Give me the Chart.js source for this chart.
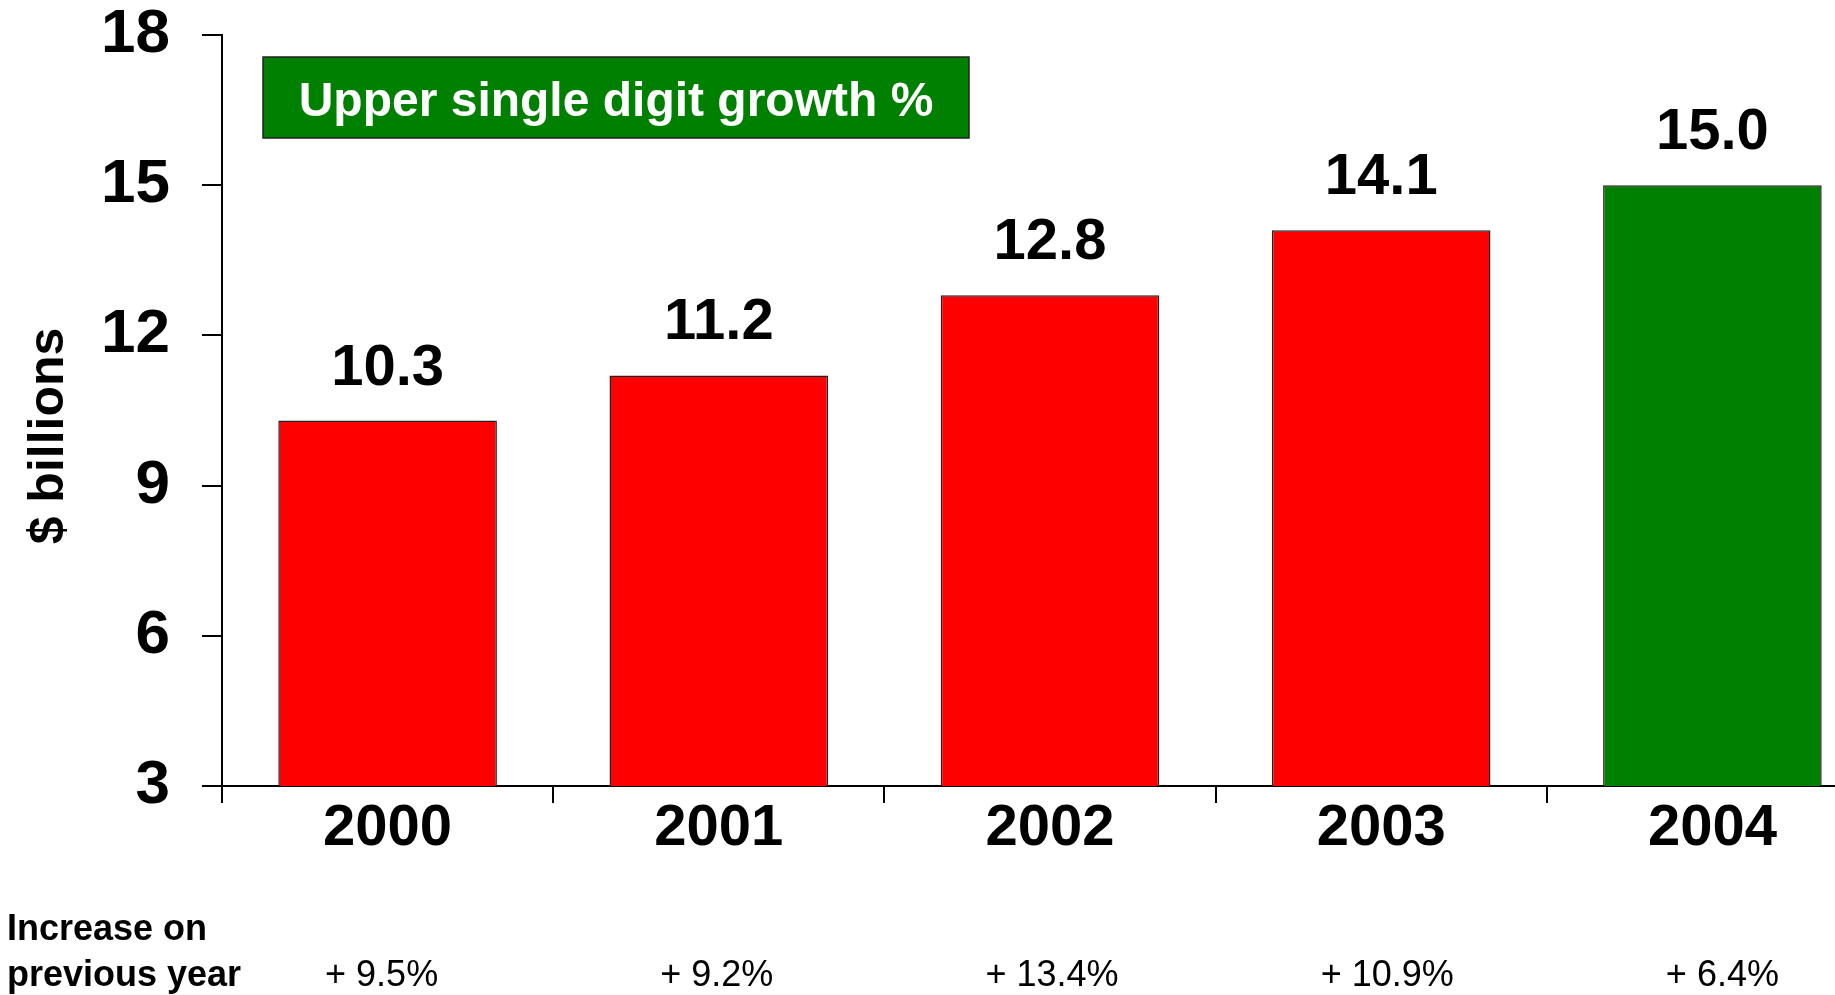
<!DOCTYPE html>
<html>
<head>
<meta charset="utf-8">
<title>Sales $ billions</title>
<script src="https://cdn.jsdelivr.net/npm/chart.js@4"></script>
<style>
  html, body { margin: 0; padding: 0; overflow: hidden; background: #fff; }
  #wrap { position: absolute; left: 0; top: 0; width: 1880px; height: 995px; }
</style>
</head>
<body>
<div id="wrap"><canvas id="salesChart" width="1880" height="995"></canvas></div>
<script>
// Data
const years = ["2000", "2001", "2002", "2003", "2004"];
const sales = [10.3, 11.2, 12.8, 14.1, 15.0];
const growth = ["+ 9.5%", "+ 9.2%", "+ 13.4%", "+ 10.9%", "+ 6.4%"];
const yTicks = [3, 6, 9, 12, 15, 18];

const FONT = '"Liberation Sans", Arial, sans-serif';

// Extra drawing: value labels, axis title, callout box and the bottom row
const extrasPlugin = {
    id: 'extras',
    afterDatasetsDraw(chart) {
        const ctx = chart.ctx;
        const meta = chart.getDatasetMeta(0);
        const xScale = chart.scales.x;
        ctx.save();

        // values over bars
        ctx.fillStyle = '#000';
        ctx.font = 'bold 58px ' + FONT;
        ctx.textAlign = 'center';
        ctx.textBaseline = 'alphabetic';
        meta.data.forEach((bar, i) => {
            ctx.fillText(sales[i].toFixed(1), bar.x, bar.y - 36);
        });

        // y axis title
        ctx.save();
        ctx.translate(49, 436);
        ctx.rotate(-Math.PI / 2);
        ctx.font = 'bold 50px ' + FONT;
        ctx.textBaseline = 'middle';
        ctx.fillText('$ billions', 0, 0);
        ctx.restore();

        // callout box
        ctx.fillStyle = '#008000';
        ctx.fillRect(263, 57, 706, 81);
        ctx.strokeStyle = '#222';
        ctx.lineWidth = 1.5;
        ctx.strokeRect(263, 57, 706, 81);
        ctx.fillStyle = '#fff';
        ctx.font = 'bold 48px ' + FONT;
        ctx.textBaseline = 'middle';
        ctx.fillText('Upper single digit growth %', 616, 103);

        // bottom row
        ctx.fillStyle = '#000';
        ctx.textAlign = 'left';
        ctx.font = 'bold 36px ' + FONT;
        ctx.fillText('Increase on', 7, 930);
        ctx.fillText('previous year', 7, 976);
        ctx.textAlign = 'center';
        ctx.font = '36px ' + FONT;
        growth.forEach((g, i) => {
            ctx.fillText(g, xScale.getPixelForValue(i) - 6 + i * 4, 976);
        });

        ctx.restore();
    }
};

const initSalesChart = () => {
    const ctx = document.getElementById('salesChart').getContext('2d');
    new Chart(ctx, {
        type: 'bar',
        data: {
            labels: years,
            datasets: [{
                data: sales,
                backgroundColor: (c) => c.dataIndex === years.length - 1 ? '#008000' : '#ff0000',
                borderColor: '#222',
                borderWidth: 1.5,
                barPercentage: 0.66,
                categoryPercentage: 1
            }]
        },
        options: {
            responsive: false,
            animation: false,
            layout: { padding: { left: 0, right: 2, top: 35, bottom: 0 } },
            plugins: {
                legend: { display: false },
                tooltip: { enabled: false }
            },
            scales: {
                x: {
                    afterFit: (s) => { s.height = 209; s.paddingLeft = 0; s.paddingRight = 0; },
                    border: { display: true, color: '#000', width: 2 },
                    grid: { display: true, drawOnChartArea: false, tickLength: 17, color: '#000', lineWidth: 2, offset: true },
                    ticks: { color: '#000', font: { family: FONT, size: 58, weight: 'bold', lineHeight: 1 }, padding: -3, maxRotation: 0 }
                },
                y: {
                    min: 3,
                    max: 18,
                    afterFit: (s) => { s.width = 222; s.paddingTop = 0; s.paddingBottom = 0; },
                    afterBuildTicks: (s) => { s.ticks = yTicks.map(v => ({ value: v })); },
                    border: { display: true, color: '#000', width: 2 },
                    grid: { display: true, drawOnChartArea: false, tickLength: 20, color: '#000', lineWidth: 2 },
                    ticks: { color: '#000', font: { family: FONT, size: 62, weight: 'bold', lineHeight: 1 }, padding: 32 }
                }
            }
        },
        plugins: [extrasPlugin]
    });
};

document.addEventListener('DOMContentLoaded', initSalesChart);
</script>
</body>
</html>
